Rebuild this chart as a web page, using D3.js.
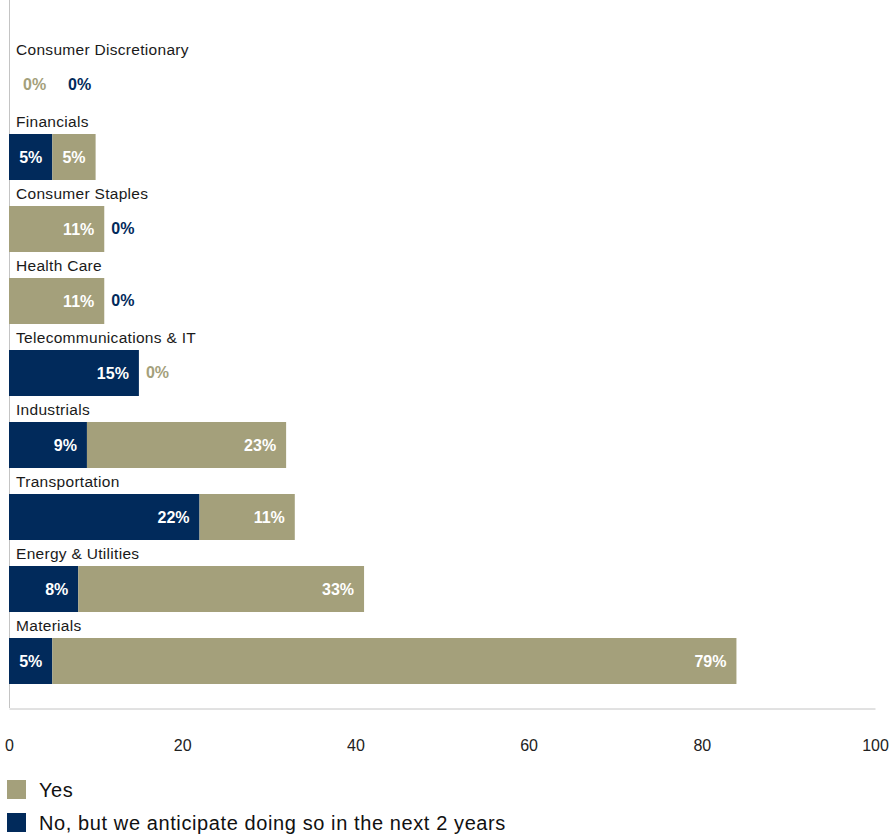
<!DOCTYPE html>
<html><head><meta charset="utf-8">
<script src="https://cdn.jsdelivr.net/npm/d3@7"></script>
<style>
body{margin:0;background:#fff;}
svg{display:block;font-family:"Liberation Sans",Arial,Helvetica,sans-serif;}
</style></head>
<body>
<svg id="chart" width="891" height="834"></svg>
<script>
const categories = ["Consumer Discretionary","Financials","Consumer Staples","Health Care","Telecommunications & IT","Industrials","Transportation","Energy & Utilities","Materials"];
const noButSoon = [0,5,0,0,15,9,22,8,5];
const yes = [0,5,11,11,0,23,11,33,79];
const seriesNames = ["Yes","No, but we anticipate doing so in the next 2 years"];
const xTicks = [0,20,40,60,80,100];

const navy = "#012a5b", tan = "#a4a07b";
const svg = d3.select("#chart");
const x = d3.scaleLinear().domain([0,100]).range([9,875]);
const y = d3.scaleBand().domain(categories).range([62,684]).paddingInner(26/72).paddingOuter(0);

// left frame line
svg.append("line").attr("x1",9.5).attr("x2",9.5).attr("y1",0).attr("y2",708)
  .attr("stroke","#c4c4c4").attr("stroke-width",1);

const rows = categories.map((c,i)=>({c, no:noButSoon[i], yes:yes[i]}));
const g = svg.append("g");
rows.forEach(r=>{
  const top = y(r.c), h = y.bandwidth(), cy = top + h/2;
  g.append("text").attr("x",16).attr("y",top-7.5).attr("font-size",15.5)
    .attr("letter-spacing","0.3px").attr("fill","#1a1a1a").text(r.c);
  const segs = [{v:r.no, s:0, col:navy},{v:r.yes, s:r.no, col:tan}];
  segs.forEach(sg=>{
    if(sg.v>0){
      g.append("rect").attr("x",x(sg.s)).attr("y",top).attr("width",x(sg.s+sg.v)-x(sg.s)).attr("height",h).attr("fill",sg.col);
      g.append("text").attr("x",x(sg.s+sg.v)-10).attr("y",cy).attr("dy","0.35em")
        .attr("text-anchor","end").attr("font-size",16).attr("font-weight","bold").attr("fill","#fff")
        .text(sg.v+"%");
    }
  });
  // zero labels after the stack end
  const end = x(r.no + r.yes);
  const zeros = [];
  if(r.yes===0) zeros.push(tan);
  if(r.no===0) zeros.push(navy);
  let px = end + (end===x(0) ? 14 : 7);
  zeros.forEach(col=>{
    g.append("text").attr("x",px).attr("y",cy).attr("dy","0.3em")
      .attr("font-size",16).attr("font-weight","bold").attr("fill",col).text("0%");
    px += 45;
  });
});

// x axis
const ax = svg.append("g").attr("transform","translate(0,708.5)")
  .call(d3.axisBottom(x).tickValues(xTicks).tickSize(0).tickSizeOuter(0).tickPadding(31));
ax.select(".domain").attr("stroke","#c4c4c4");
ax.selectAll("text").attr("font-size",16).attr("fill","#222").attr("font-family","'Liberation Sans',Arial,sans-serif");

// legend
const lg = svg.append("g");
[[seriesNames[0],tan],[seriesNames[1],navy]].forEach((d,i)=>{
  const ly = 780 + i*33;
  lg.append("rect").attr("x",7).attr("y",ly).attr("width",19).attr("height",19).attr("fill",d[1]);
  lg.append("text").attr("x",39).attr("y",ly+10).attr("dy","0.35em").attr("font-size",20)
    .attr("letter-spacing","0.6px").attr("fill","#111").text(d[0]);
});
</script>
</body></html>
